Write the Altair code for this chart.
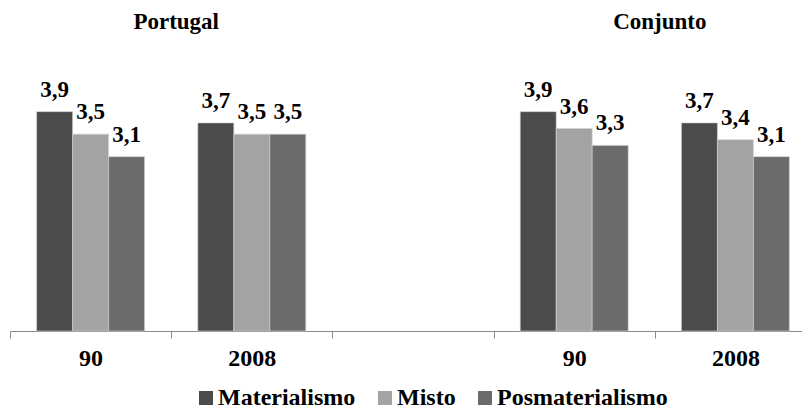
import altair as alt
import pandas as pd

# ---- data ----
bar_categories = ["P90", "P2008", "C90", "C2008"]
axis_categories = ["P90", "P2008", "gap", "C90", "C2008"]
axis_labels = ["90", "2008", "", "90", "2008"]
series = ["Materialismo", "Misto", "Posmaterialismo"]
materialismo = [3.9, 3.7, 3.9, 3.7]
misto = [3.5, 3.5, 3.6, 3.4]
posmaterialismo = [3.1, 3.5, 3.3, 3.1]
colors = ["#4b4b4b", "#a3a3a3", "#6b6b6b"]
group_titles = ["Portugal", "Conjunto"]
group_anchor = ["P90", "C90"]

FONT = "Liberation Serif"

rows = []
for name, vals in zip(series, [materialismo, misto, posmaterialismo]):
    for cat, v in zip(bar_categories, vals):
        rows.append({"cat": cat, "serie": name, "valor": v,
                     "label": f"{v:.1f}".replace(".", ",")})
df = pd.DataFrame(rows)
titles_df = pd.DataFrame({"cat": group_anchor, "titulo": group_titles,
                          "valor": [5.37, 5.37]})

# label expression built from the lists
expr = "''"
for c, l in zip(reversed(axis_categories), reversed(axis_labels)):
    expr = f"datum.value == '{c}' ? '{l}' : ({expr})"

# the last category runs past the right edge, as in the reference
x_scale = alt.Scale(domain=axis_categories, paddingInner=0, paddingOuter=0,
                    range=[0, 806])
y_scale = alt.Scale(domain=[0, 5.6], nice=False, zero=True)

x_enc = alt.X("cat:N", scale=x_scale, sort=axis_categories,
              axis=alt.Axis(title=None, labelAngle=0, labelExpr=expr,
                            tickBand="extent", tickSize=7, tickColor="#8c8c8c",
                            domainColor="#8c8c8c", domainWidth=1,
                            labelFont=FONT, labelFontSize=24,
                            labelFontWeight="bold", labelColor="black",
                            labelPadding=8))
y_enc = alt.Y("valor:Q", scale=y_scale, axis=None)
xoff = alt.XOffset("serie:N", sort=series,
                   scale=alt.Scale(domain=series, paddingInner=0, paddingOuter=0.74))

bars = alt.Chart(df).mark_bar(stroke="#d4d4d4", strokeWidth=0.6).encode(
    x=x_enc,
    xOffset=xoff,
    y=y_enc,
    color=alt.Color("serie:N", sort=series,
                    scale=alt.Scale(domain=series, range=colors),
                    legend=alt.Legend(title=None, orient="none", direction="horizontal",
                                      legendX=184, legendY=370, padding=0,
                                      symbolType="square", symbolSize=196,
                                      symbolStrokeWidth=0, symbolOpacity=1,
                                      labelFont=FONT, labelFontSize=24,
                                      labelFontWeight="bold", labelColor="black",
                                      labelLimit=0, labelOffset=0, columnPadding=17)),
)

labels = alt.Chart(df).mark_text(font=FONT, fontSize=23, fontWeight="bold",
                                 color="black", baseline="alphabetic", dy=-15).encode(
    x=alt.X("cat:N", scale=x_scale, sort=axis_categories),
    xOffset=xoff,
    y=y_enc,
    text="label:N",
)

titles = alt.Chart(titles_df).mark_text(font=FONT, fontSize=23, fontWeight="bold",
                                        color="black", baseline="alphabetic", dx=5).encode(
    x=alt.X("cat:N", scale=x_scale, sort=axis_categories, bandPosition=1),
    y=y_enc,
    text="titulo:N",
)

chart = alt.layer(bars, labels, titles).properties(
    width=792, height=315,
    autosize=alt.AutoSizeParams(type="none"),
    padding={"left": 2, "top": 8, "right": 0, "bottom": 80},
    background="white",
).configure_view(stroke=None)

chart.save("out.html", embed_options={"renderer": "svg", "actions": False})
